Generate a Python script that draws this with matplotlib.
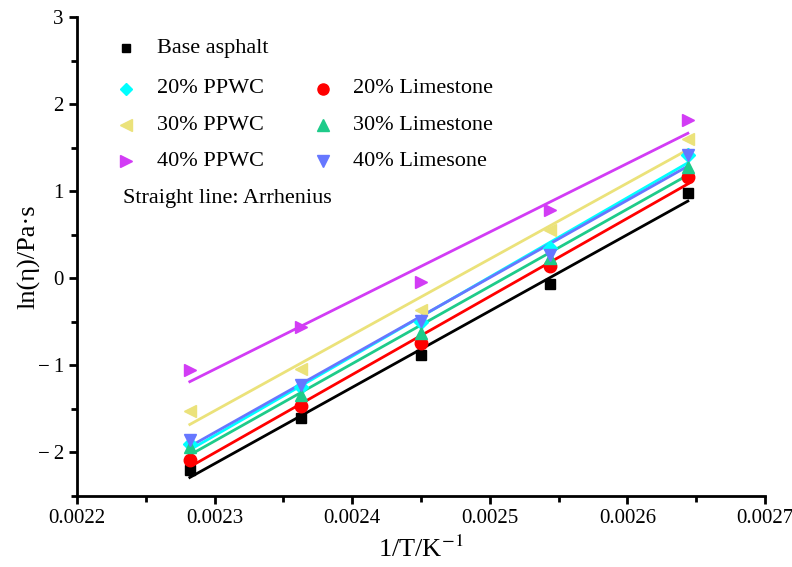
import numpy as np
import matplotlib
matplotlib.use("Agg")
import matplotlib.pyplot as plt
from matplotlib.ticker import MultipleLocator, FuncFormatter

plt.rcParams['font.family'] = ['Liberation Serif', 'DejaVu Serif']
plt.rcParams['mathtext.fontset'] = 'stix'

inv_T = [0.002282, 0.002363, 0.002450, 0.002544, 0.002644]

series_names = ["Base asphalt", "20% PPWC", "30% PPWC", "40% PPWC",
                "20% Limestone", "30% Limestone", "40% Limesone"]
base_asphalt = [-2.21, -1.61, -0.89, -0.07, 0.98]
ppwc_20 = [-1.91, -1.25, -0.51, 0.34, 1.41]
ppwc_30 = [-1.53, -1.05, -0.37, 0.55, 1.60]
ppwc_40 = [-1.06, -0.56, -0.05, 0.78, 1.82]
lime_20 = [-2.09, -1.47, -0.75, 0.14, 1.16]
lime_30 = [-1.94, -1.35, -0.63, 0.23, 1.28]
lime_40 = [-1.86, -1.23, -0.49, 0.26, 1.41]

values = [base_asphalt, ppwc_20, ppwc_30, ppwc_40, lime_20, lime_30, lime_40]
colors = ["#000000", "#00FFFF", "#EBE27A", "#D23CF5", "#FF0000", "#1ECB8A", "#6677FF"]
markers = ["s", "D", "<", ">", "o", "^", "v"]
msizes = [7, 7, 9, 9, 9, 9, 9]

fig = plt.figure(figsize=(7.92, 5.67), dpi=100)
ax = fig.add_axes([0.0972, 0.126, 0.8686, 0.844])

x = np.array(inv_T)
for vals, c, m, ms in zip(values, colors, markers, msizes):
    y = np.array(vals)
    k, b = np.polyfit(x, y, 1)
    ax.plot(x, k * x + b, color=c, lw=2.0, zorder=2)
    ax.plot(x, y, linestyle='none', marker=m, color=c, markersize=ms, zorder=3)

ax.set_xlim(0.0022, 0.0027)
ax.set_ylim(-2.5, 3)
ax.xaxis.set_major_locator(MultipleLocator(0.0001))
ax.xaxis.set_minor_locator(MultipleLocator(0.00005))
ax.yaxis.set_major_locator(MultipleLocator(1))
ax.yaxis.set_minor_locator(MultipleLocator(0.5))
ax.xaxis.set_major_formatter(FuncFormatter(lambda v, p: f"{v:.4f}"))
ax.yaxis.set_major_formatter(FuncFormatter(lambda v, p: f"{int(round(v))}".replace('-', '\u2212\u2009')))

for s in ['top', 'right']:
    ax.spines[s].set_visible(False)
for s in ['left', 'bottom']:
    ax.spines[s].set_linewidth(2.0)
ax.tick_params(which='major', direction='out', length=6, width=2.0, labelsize=15)
ax.tick_params(which='minor', direction='out', length=4, width=2.0)

ax.set_xlabel(r"1/T/K$^{-1}$", fontsize=19, labelpad=6)
ax.set_ylabel("ln(η)/Pa·s", fontsize=19, labelpad=-2)

# manual legend
col_marker = [0.0712, 0.358]
col_text = [0.116, 0.401]
rows = [0.935, 0.850, 0.774, 0.699]
layout = [(0, 0, 0), (1, 0, 1), (2, 0, 2), (3, 0, 3), (4, 1, 1), (5, 1, 2), (6, 1, 3)]
for idx, col, row in layout:
    ax.plot([col_marker[col]], [rows[row]], marker=markers[idx], color=colors[idx],
            markersize=msizes[idx] - 1, linestyle='none', transform=ax.transAxes, clip_on=False)
    ax.text(col_text[col], rows[row], series_names[idx], transform=ax.transAxes,
            fontsize=16, va='center', ha='left')
ax.text(0.067, 0.620, "Straight line: Arrhenius", transform=ax.transAxes,
        fontsize=16, va='center', ha='left')

fig.savefig("out.png", dpi=100)
